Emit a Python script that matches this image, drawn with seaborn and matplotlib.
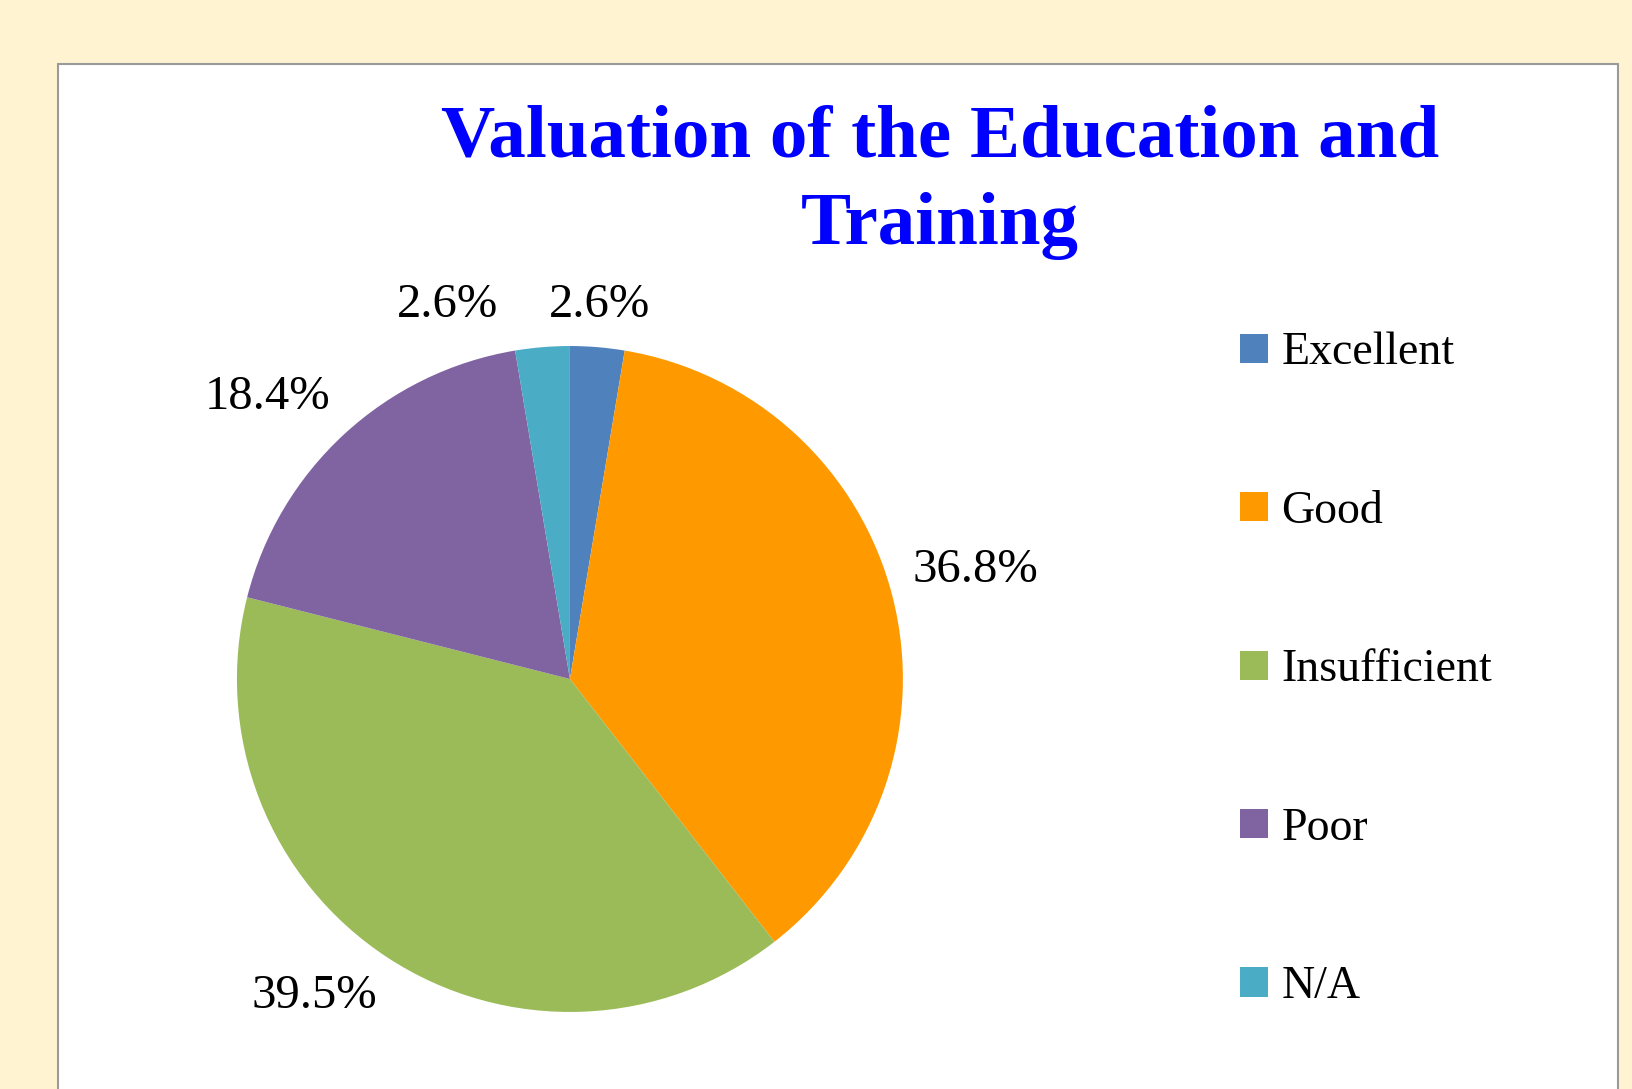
import matplotlib
matplotlib.use("Agg")
from matplotlib import pyplot as plt
from matplotlib.patches import Rectangle
import seaborn as sns

categories = ["Excellent", "Good", "Insufficient", "Poor", "N/A"]
counts = [1, 14, 15, 7, 1]
pct_labels = ["2.6%", "36.8%", "39.5%", "18.4%", "2.6%"]
slice_colors = ["#4F81BD", "#FF9900", "#9BBB59", "#8064A2", "#4BACC6"]
title = "Valuation of the Education and\nTraining"

sns.set_theme(style="white")
plt.rcParams['font.family'] = ['Liberation Serif', 'DejaVu Serif']
plt.rcParams['text.color'] = 'black'

fig = plt.figure(figsize=(16.33, 10.89), dpi=100, facecolor="#FFF3D1")

# white chart panel with grey border
fig.patches.append(Rectangle((0.0355, -0.02), 0.9553, 0.9612, transform=fig.transFigure,
                             facecolor="white", edgecolor="#9A9A9A", linewidth=1.5, zorder=-1))

ax = fig.add_axes([0.1451, 0.0707, 0.4078, 0.6116])
ax.patch.set_visible(False)
palette = sns.color_palette(slice_colors)
wedges, texts = ax.pie(counts, labels=pct_labels, colors=palette, startangle=90,
                       counterclock=False, labeldistance=1.06,
                       wedgeprops=dict(linewidth=0),
                       textprops=dict(fontsize=35, color="black"))
ax.set_xlim(-1, 1)
ax.set_ylim(-1, 1)
ax.set_aspect("equal")

# excel-like label placement: outside end, top labels centred
for t in texts:
    x, y = t.get_position()
    t.set_va('bottom' if y > 0 else 'top')
    if abs(x) < 0.15:
        t.set_ha('center')

# push overlapping labels apart (left one moves left)
renderer = fig.canvas.get_renderer()
inv = ax.transData.inverted()
for i, a in enumerate(texts):
    for b in texts[i + 1:]:
        ea, eb = a.get_window_extent(renderer), b.get_window_extent(renderer)
        if ea.overlaps(eb):
            left, right = (a, b) if ea.x0 < eb.x0 else (b, a)
            edge = inv.transform((right.get_window_extent(renderer).x0, 0))[0]
            left.set_ha('right')
            left.set_x(edge - 0.15)

fig.text(0.5757, 0.904, title, ha="center", va="top", fontsize=54,
         fontweight="bold", color="#0000FF", linespacing=1.37)

fig.legend(wedges, categories, loc="upper left", bbox_to_anchor=(0.7594, 0.6953),
           frameon=False, fontsize=33, handlelength=0.6, handleheight=0.6,
           handletextpad=0.3, labelspacing=2.53, borderpad=0, borderaxespad=0,
           labelcolor="black")

fig.savefig("out.png", dpi=100, facecolor=fig.get_facecolor())
